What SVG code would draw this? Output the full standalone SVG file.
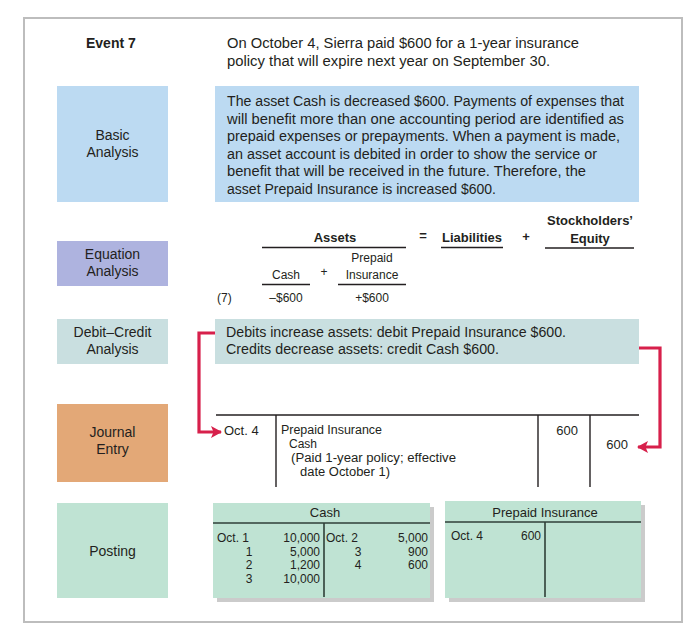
<svg xmlns="http://www.w3.org/2000/svg" width="697" height="633" viewBox="0 0 697 633">
<defs>
<style>
text{font-family:"Liberation Sans",Arial,sans-serif;fill:#231f20;font-size:14px}
.b{font-weight:bold}
.c{text-anchor:middle}
.r{text-anchor:end}
.s13{font-size:13px}
.s12{font-size:12px}
.ln{stroke:#231f20;stroke-width:1.4;fill:none}
.tl{stroke:#2f3f38;stroke-width:1.6;fill:none}
.red{stroke:#d7204b;stroke-width:3.2;fill:none}
.shadow{fill:#cbcbcb}
.mint{fill:#bfe3d3}
</style>
<marker id="ah" markerUnits="userSpaceOnUse" markerWidth="12" markerHeight="12" viewBox="0 0 12 12" refX="10" refY="6" orient="auto">
<path d="M0,0 L11,6 L0,12 L2.5,6 Z" fill="#d7204b"/>
</marker>
</defs>
<rect width="697" height="633" fill="#fff"/>
<rect x="24" y="18" width="658" height="604" fill="#fff" stroke="#bdbdbd" stroke-width="2"/>

<g id="event">
<text x="86" y="48" class="b" font-size="15">Event 7</text>
<text x="227" y="48" textLength="352" lengthAdjust="spacingAndGlyphs">On October 4, Sierra paid $600 for a 1-year insurance</text>
<text x="227" y="66" textLength="323" lengthAdjust="spacingAndGlyphs">policy that will expire next year on September 30.</text>
</g>

<g id="basic-label">
<rect x="57" y="86" width="111" height="116" fill="#bcdaf2"/>
<text x="112.5" y="140" class="c">Basic</text>
<text x="112.5" y="157" class="c">Analysis</text>
</g>
<g id="basic-text">
<rect x="215" y="86" width="424" height="116" fill="#bcdaf2"/>
<text x="227" y="106" textLength="397" lengthAdjust="spacingAndGlyphs">The asset Cash is decreased $600. Payments of expenses that</text>
<text x="227" y="123.5" textLength="397" lengthAdjust="spacingAndGlyphs">will benefit more than one accounting period are identified as</text>
<text x="227" y="141" textLength="393" lengthAdjust="spacingAndGlyphs">prepaid expenses or prepayments. When a payment is made,</text>
<text x="227" y="158.5" textLength="370" lengthAdjust="spacingAndGlyphs">an asset account is debited in order to show the service or</text>
<text x="227" y="176" textLength="359" lengthAdjust="spacingAndGlyphs">benefit that will be received in the future. Therefore, the</text>
<text x="227" y="193.5" textLength="269" lengthAdjust="spacingAndGlyphs">asset Prepaid Insurance is increased $600.</text>
</g>

<g id="equation-label">
<rect x="57" y="241" width="111" height="45" fill="#aeb3df"/>
<text x="112.5" y="259" class="c">Equation</text>
<text x="112.5" y="276" class="c">Analysis</text>
</g>
<g id="equation">
<text x="335" y="242" class="c b s13">Assets</text>
<line x1="262" y1="247.5" x2="406" y2="247.5" class="ln"/>
<text x="423" y="240" class="c b s13">=</text>
<text x="472" y="242" class="c b s13">Liabilities</text>
<line x1="441" y1="247.5" x2="503" y2="247.5" class="ln"/>
<text x="526" y="241" class="c b s13">+</text>
<text x="590" y="225" class="c b s13">Stockholders’</text>
<text x="590" y="243" class="c b s13">Equity</text>
<line x1="545" y1="248" x2="634" y2="248" class="ln"/>
<text x="372" y="262" class="c s12">Prepaid</text>
<text x="286" y="279" class="c s12">Cash</text>
<text x="324" y="276" class="c s12">+</text>
<text x="372" y="279" class="c s12">Insurance</text>
<line x1="262" y1="284.5" x2="310" y2="284.5" class="ln"/>
<line x1="338" y1="284.5" x2="406" y2="284.5" class="ln"/>
<text x="217" y="302" class="s12">(7)</text>
<text x="286" y="302" class="c s12">–$600</text>
<text x="372" y="302" class="c s12">+$600</text>
</g>

<g id="debitcredit-label">
<rect x="57" y="319" width="111" height="45" fill="#c9dfe0"/>
<text x="112.5" y="337" class="c">Debit–Credit</text>
<text x="112.5" y="354" class="c">Analysis</text>
</g>
<g id="debitcredit-text">
<rect x="215" y="319" width="424" height="45" fill="#c9dfe0"/>
<text x="226" y="337" textLength="340" lengthAdjust="spacingAndGlyphs">Debits increase assets: debit Prepaid Insurance $600.</text>
<text x="226" y="354" textLength="273" lengthAdjust="spacingAndGlyphs">Credits decrease assets: credit Cash $600.</text>
</g>

<g id="journal-label">
<rect x="57" y="404" width="111" height="78" fill="#e3a877"/>
<text x="112.5" y="437" class="c">Journal</text>
<text x="112.5" y="454" class="c">Entry</text>
</g>
<g id="journal">
<line x1="216" y1="415" x2="639" y2="415" class="ln" stroke-width="1.2"/>
<line x1="276" y1="415" x2="276" y2="487" class="ln" stroke-width="1.2"/>
<line x1="538" y1="415" x2="538" y2="487" class="ln" stroke-width="1.2"/>
<line x1="590" y1="415" x2="590" y2="487" class="ln" stroke-width="1.2"/>
<text x="224" y="435" class="s13">Oct. 4</text>
<text x="281" y="434" class="s12" textLength="101" lengthAdjust="spacingAndGlyphs">Prepaid Insurance</text>
<text x="289" y="448" class="s12">Cash</text>
<text x="291" y="462" class="s12" textLength="165" lengthAdjust="spacingAndGlyphs">(Paid 1-year policy; effective</text>
<text x="300" y="476" class="s12" textLength="90" lengthAdjust="spacingAndGlyphs">date October 1)</text>
<text x="578" y="435" class="r s13">600</text>
<text x="628" y="449" class="r s13">600</text>
</g>

<g id="posting-label">
<rect x="57" y="503" width="111" height="95" fill="#bfe3d3"/>
<text x="112.5" y="556" class="c">Posting</text>
</g>
<g id="cash-account">
<rect x="217" y="507" width="217" height="95" class="shadow"/>
<rect x="213" y="503" width="217" height="95" class="mint"/>
<line x1="213" y1="523" x2="430" y2="523" class="tl"/>
<line x1="324" y1="523" x2="324" y2="597" class="tl"/>
<text x="325" y="517" class="c s13">Cash</text>
<text x="217" y="542" class="s12">Oct. 1</text>
<text x="249" y="555.5" class="c s12">1</text>
<text x="249" y="569" class="c s12">2</text>
<text x="249" y="582.5" class="c s12">3</text>
<text x="320" y="542" class="r s12">10,000</text>
<text x="320" y="555.5" class="r s12">5,000</text>
<text x="320" y="569" class="r s12">1,200</text>
<text x="320" y="582.5" class="r s12">10,000</text>
<text x="326" y="542" class="s12">Oct. 2</text>
<text x="358" y="555.5" class="c s12">3</text>
<text x="358" y="569" class="c s12">4</text>
<text x="428" y="542" class="r s12">5,000</text>
<text x="428" y="555.5" class="r s12">900</text>
<text x="428" y="569" class="r s12">600</text>
</g>
<g id="prepaid-account">
<rect x="449" y="505" width="196" height="97" class="shadow"/>
<rect x="445" y="501" width="196" height="97" class="mint"/>
<line x1="445" y1="522" x2="641" y2="522" class="tl"/>
<line x1="545" y1="522" x2="545" y2="597" class="tl"/>
<text x="545" y="517" class="c s13">Prepaid Insurance</text>
<text x="451" y="540" class="s12">Oct. 4</text>
<text x="541" y="540" class="r s12">600</text>
</g>

<g id="connectors">
<path d="M215,333 H199 V432 H221" class="red" marker-end="url(#ah)"/>
<path d="M639,348 H660 V447 H638" class="red" marker-end="url(#ah)"/>
</g>
</svg>
